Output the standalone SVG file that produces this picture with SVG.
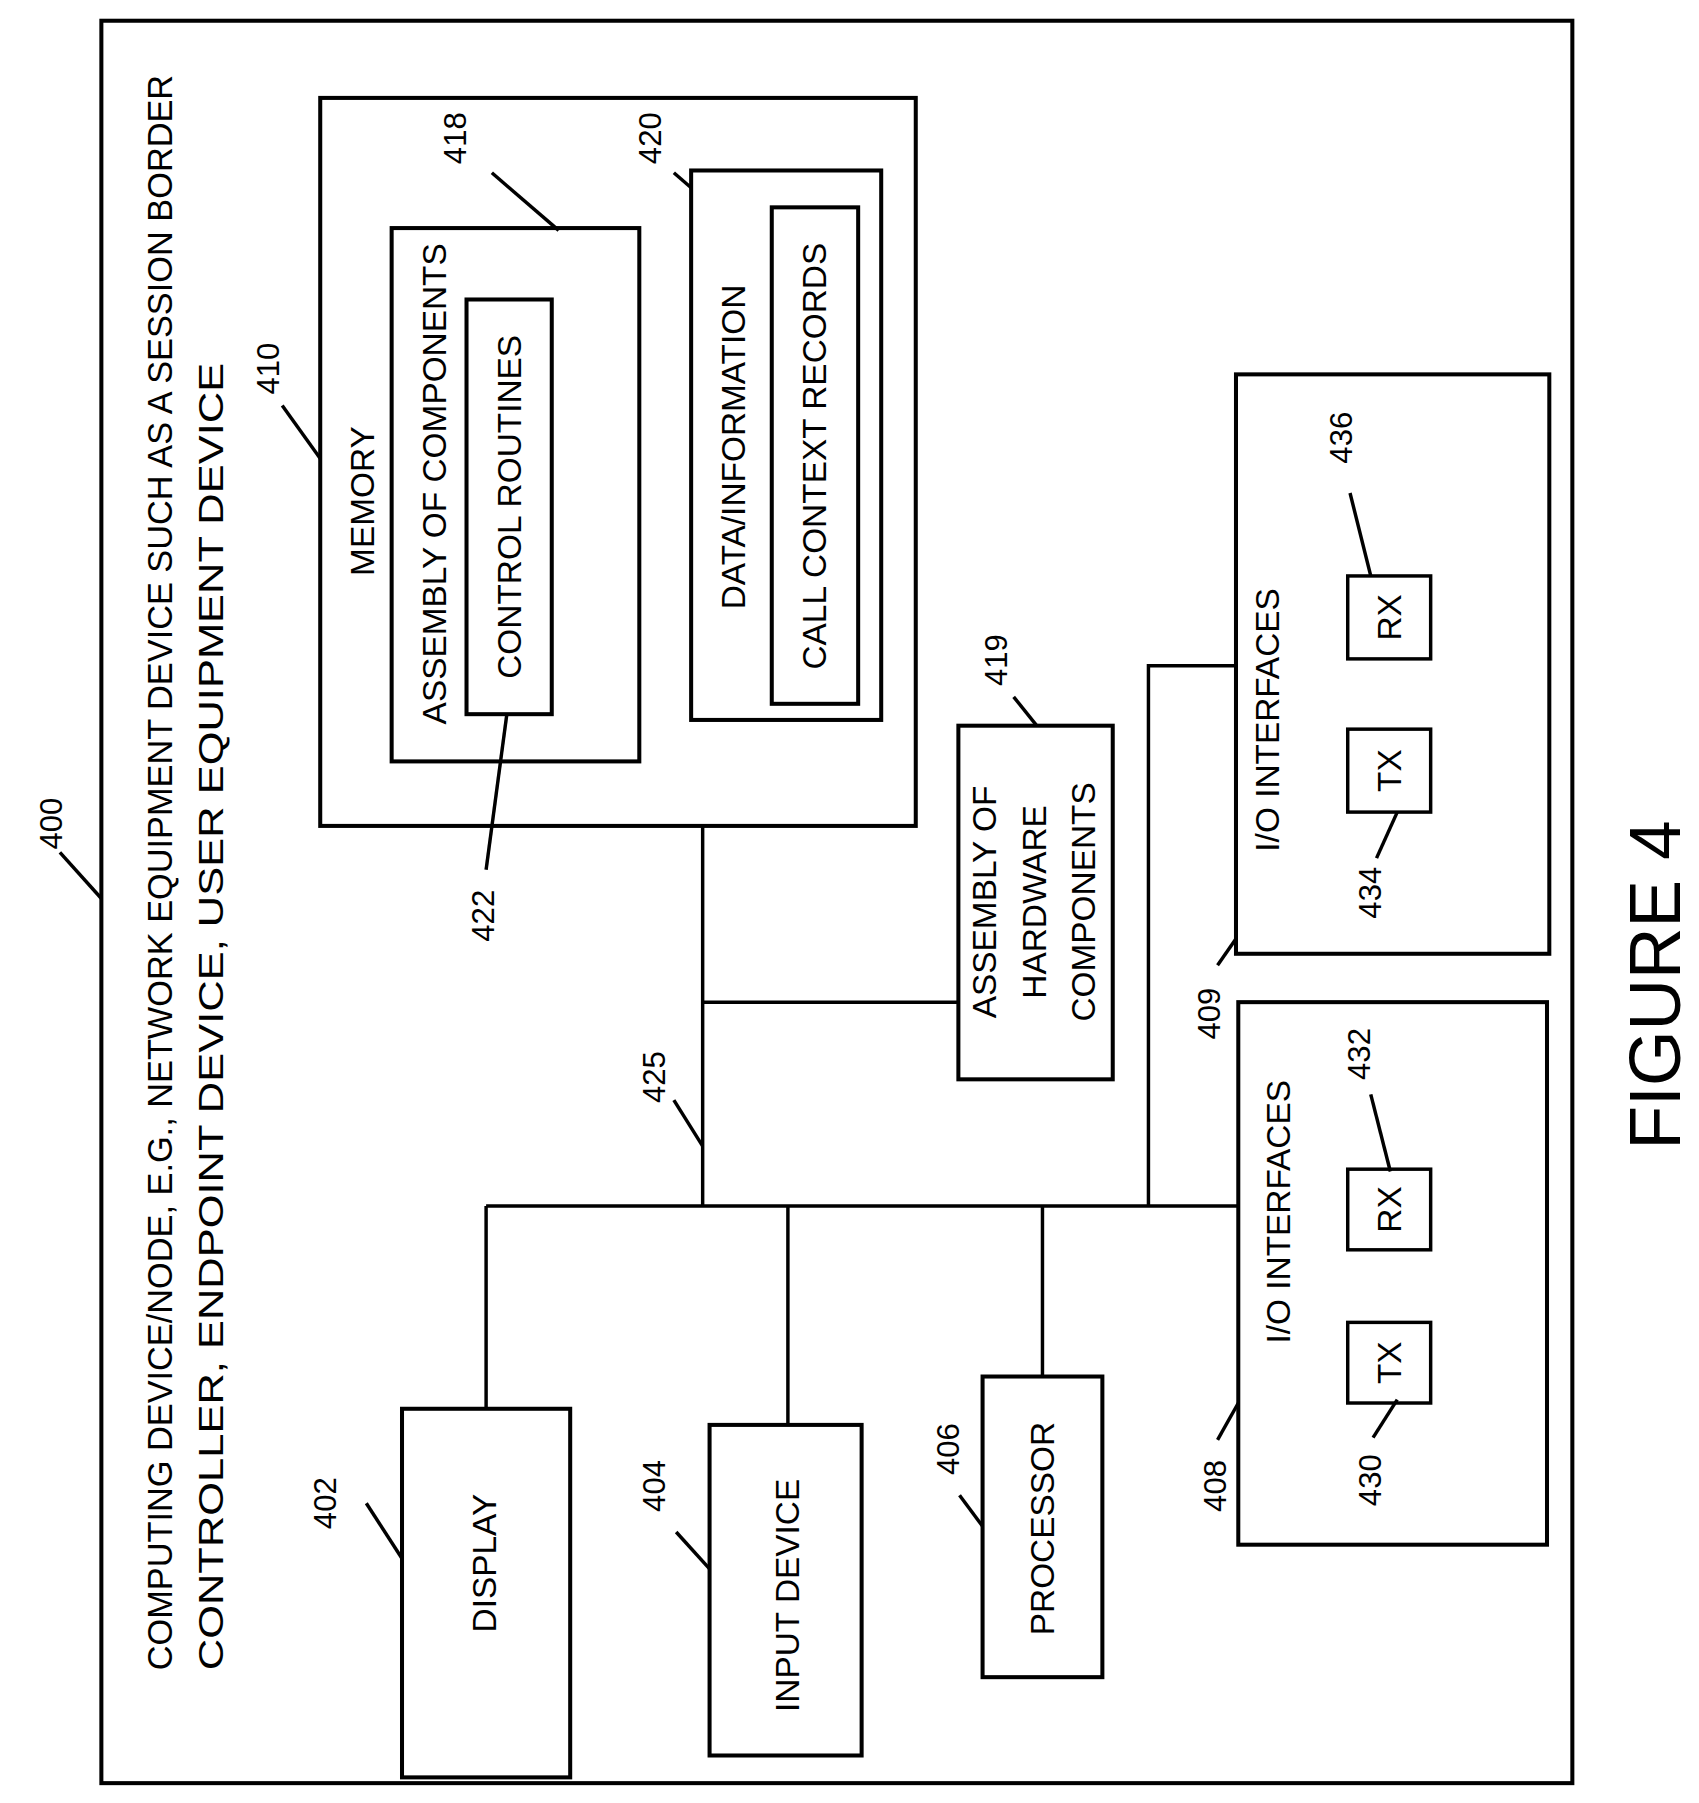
<svg xmlns="http://www.w3.org/2000/svg" width="1699" height="1803" viewBox="0 0 1699 1803">
<style>
.b{fill:none;stroke:#000;stroke-width:3.5}
.l{fill:none;stroke:#000;stroke-width:3}
text{font-family:"Liberation Sans",Arial,sans-serif;font-size:29px;fill:#000;text-anchor:middle;dominant-baseline:central}
.n{font-size:27px}
.s{text-anchor:start;dominant-baseline:auto;font-size:31px}
</style>
<rect width="1699" height="1803" fill="#fff"/>
<g transform="scale(1.1519)">
<g id="outer"><rect class="b" x="88" y="18" width="1277" height="1530"/>
<text class="n" transform="translate(45,715) rotate(-90)">400</text><line class="l" x1="52" y1="740" x2="88" y2="780"/>
<text class="s" transform="translate(149,1450) rotate(-90)" textLength="1385" lengthAdjust="spacingAndGlyphs">COMPUTING DEVICE/NODE, E.G., NETWORK EQUIPMENT DEVICE SUCH AS A SESSION BORDER</text>
<text class="s" transform="translate(194,1450) rotate(-90)" textLength="1135" lengthAdjust="spacingAndGlyphs">CONTROLLER, ENDPOINT DEVICE, USER EQUIPMENT DEVICE</text></g>
<g id="conn">
<path class="l" d="M610,717V1047M422,1047H1075M610,870H832M997,1047V578H1073M422,1047V1223M684,1047V1237M905,1047V1195"/>
<text class="n" transform="translate(568,935) rotate(-90)">425</text><line class="l" x1="585" y1="955" x2="610" y2="995"/></g>
<g id="memory"><rect class="b" x="278" y="85" width="517" height="632"/>
<text transform="translate(315,435) rotate(-90)">MEMORY</text>
<text class="n" transform="translate(233,320) rotate(-90)">410</text><line class="l" x1="245" y1="352" x2="278" y2="398"/></g>
<g id="asm"><rect class="b" x="340" y="198" width="215" height="463"/>
<text transform="translate(377,420) rotate(-90)">ASSEMBLY OF COMPONENTS</text>
<text class="n" transform="translate(395,120) rotate(-90)">418</text><line class="l" x1="427" y1="150" x2="485" y2="200"/></g>
<g id="ctrl"><rect class="b" x="405" y="260" width="74" height="360"/>
<text transform="translate(442,440) rotate(-90)">CONTROL ROUTINES</text>
<text class="n" transform="translate(420,795) rotate(-90)">422</text><line class="l" x1="440" y1="620" x2="422" y2="755"/></g>
<g id="data"><rect class="b" x="600" y="148" width="165" height="477"/>
<text transform="translate(637,388) rotate(-90)">DATA/INFORMATION</text>
<text class="n" transform="translate(565,120) rotate(-90)">420</text><line class="l" x1="585" y1="150" x2="600" y2="163"/></g>
<g id="ccr"><rect class="b" x="670" y="180" width="75" height="431"/>
<text transform="translate(707,396) rotate(-90)">CALL CONTEXT RECORDS</text></g>
<g id="hw"><rect class="b" x="832" y="630" width="134" height="307"/>
<text transform="translate(855,783) rotate(-90)">ASSEMBLY OF</text>
<text transform="translate(898,783) rotate(-90)">HARDWARE</text>
<text transform="translate(941,783) rotate(-90)">COMPONENTS</text>
<text class="n" transform="translate(865,573) rotate(-90)">419</text><line class="l" x1="880" y1="605" x2="900" y2="630"/></g>
<g id="display"><rect class="b" x="349" y="1223" width="146" height="320"/>
<text transform="translate(421,1357) rotate(-90)">DISPLAY</text>
<text class="n" transform="translate(283,1305) rotate(-90)">402</text><line class="l" x1="318" y1="1305" x2="349" y2="1353"/></g>
<g id="input"><rect class="b" x="616" y="1237" width="132" height="287"/>
<text transform="translate(684,1385) rotate(-90)">INPUT DEVICE</text>
<text class="n" transform="translate(568,1290) rotate(-90)">404</text><line class="l" x1="587" y1="1330" x2="616" y2="1362"/></g>
<g id="proc"><rect class="b" x="853" y="1195" width="104" height="261"/>
<text transform="translate(905,1327) rotate(-90)">PROCESSOR</text>
<text class="n" transform="translate(823,1258) rotate(-90)">406</text><line class="l" x1="833" y1="1298" x2="853" y2="1325"/></g>
<g id="io408"><rect class="b" x="1075" y="870" width="268" height="471"/>
<text transform="translate(1110,1052) rotate(-90)">I/O INTERFACES</text>
<text class="n" transform="translate(1055,1290) rotate(-90)">408</text><line class="l" x1="1057" y1="1250" x2="1075" y2="1218"/>
<rect class="l" x="1170" y="1148" width="72" height="70"/><text transform="translate(1206,1183) rotate(-90)">TX</text>
<rect class="l" x="1170" y="1015" width="72" height="70"/><text transform="translate(1206,1050) rotate(-90)">RX</text>
<text class="n" transform="translate(1190,1285) rotate(-90)">430</text><line class="l" x1="1192" y1="1248" x2="1213" y2="1215"/>
<text class="n" transform="translate(1180,915) rotate(-90)">432</text><line class="l" x1="1190" y1="950" x2="1207" y2="1017"/></g>
<g id="io409"><rect class="b" x="1073" y="325" width="272" height="503"/>
<text transform="translate(1100,625) rotate(-90)">I/O INTERFACES</text>
<text class="n" transform="translate(1050,880) rotate(-90)">409</text><line class="l" x1="1057" y1="838" x2="1073" y2="815"/>
<rect class="l" x="1170" y="633" width="72" height="72"/><text transform="translate(1206,669) rotate(-90)">TX</text>
<rect class="l" x="1170" y="500" width="72" height="72"/><text transform="translate(1206,536) rotate(-90)">RX</text>
<text class="n" transform="translate(1190,775) rotate(-90)">434</text><line class="l" x1="1195" y1="745" x2="1213" y2="705"/>
<text class="n" transform="translate(1165,380) rotate(-90)">436</text><line class="l" x1="1172" y1="428" x2="1190" y2="500"/></g>
<text transform="translate(1437,855) rotate(-90)" style="font-size:62px">FIGURE 4</text>
</g>
</svg>
